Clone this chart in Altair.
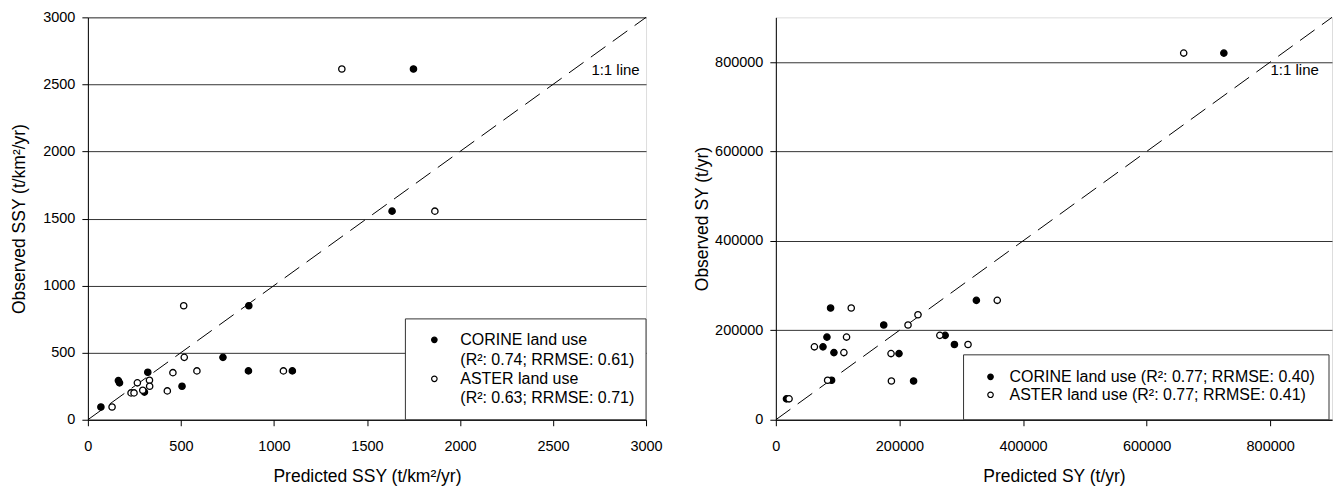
import altair as alt
import pandas as pd

FONT = "Liberation Sans"

# ---------------- Left panel: SSY (t/km2/yr) ----------------
SSY_CORINE_PRED = [70, 164, 170, 304, 322, 506, 726, 863, 1099, 865, 1635, 1750]
SSY_CORINE_OBS = [95, 292, 275, 206, 354, 250, 465, 364, 364, 850, 1555, 2615]
SSY_ASTER_PRED = [130, 266, 232, 248, 295, 331, 332, 427, 457, 518, 586, 1051, 515, 1865, 1365]
SSY_ASTER_OBS = [95, 275, 200, 200, 220, 294, 250, 215, 351, 465, 364, 364, 850, 1555, 2615]
SSY_TICKS = [0, 500, 1000, 1500, 2000, 2500, 3000]
SSY_DIAG = [0, 3000]
SSY_LABEL_POS = [2836, 2610]

# ---------------- Right panel: SY (t/yr) ----------------
SY_CORINE_PRED = [88600, 174600, 324500, 82700, 76300, 94000, 199300, 90200, 222900,
                  17200, 274000, 289000, 725000]
SY_CORINE_OBS = [249800, 212000, 267000, 184800, 163000, 150200, 147900, 88300, 86600,
                 46700, 188700, 168300, 820000]
SY_ASTER_PRED = [122000, 230000, 213900, 358300, 114400, 62400, 110100, 186400, 83800,
                 187000, 21400, 265400, 311000, 660000]
SY_ASTER_OBS = [249800, 234700, 212000, 267000, 184800, 163000, 150200, 147900, 88300,
                86600, 46700, 188700, 168300, 820000]
SY_TICKS = [0, 200000, 400000, 600000, 800000]
SY_DIAG = [0, 900000]
SY_LABEL_POS = [839600, 781400]

SERIES = ["CORINE", "ASTER"]
LEFT_LEGEND = [["CORINE land use", "(R²: 0.74; RRMSE: 0.61)"],
               ["ASTER land use", "(R²: 0.63; RRMSE: 0.71)"]]
RIGHT_LEGEND = ["CORINE land use (R²: 0.77; RRMSE: 0.40)",
                "ASTER land use (R²: 0.77; RRMSE: 0.41)"]

W1, W2, H = 559, 557, 403


def make_axis(ticks, title, grid, label_pad, title_pad):
    return alt.Axis(values=ticks, title=title, grid=grid, gridColor="#333333",
                    gridWidth=1, tickSize=6, tickColor="black", domainColor="black",
                    labelFontSize=14.5, titleFontSize=17.5, labelFont=FONT, titleFont=FONT,
                    labelColor="black", titleColor="black", titleFontWeight="normal",
                    format="d", labelFlush=False, labelPadding=label_pad,
                    titlePadding=title_pad, labelOverlap=False)


def panel(cp, co, ap, ao, ticks, dom, lab, xtitle, ytitle, legend_layers, w, ytp):
    df = pd.DataFrame({
        "pred": cp + ap,
        "obs": co + ao,
        "series": [SERIES[0]] * len(cp) + [SERIES[1]] * len(ap),
    })
    xs = alt.Scale(domain=dom, nice=False, zero=True)
    ys = alt.Scale(domain=dom, nice=False, zero=True)
    diag = pd.DataFrame({"pred": dom, "obs": dom})
    line = alt.Chart(diag).mark_line(color="black", strokeWidth=1, strokeDash=[18, 9]).encode(
        x=alt.X("pred:Q", scale=xs, axis=make_axis(ticks, xtitle, False, 13.5, 14.5)),
        y=alt.Y("obs:Q", scale=ys, axis=make_axis(ticks, ytitle, True, 7, ytp)),
    )
    pts = alt.Chart(df).mark_point(shape="circle", filled=True, size=40, strokeWidth=1.3,
                                   opacity=1).encode(
        x=alt.X("pred:Q", scale=xs),
        y=alt.Y("obs:Q", scale=ys),
        fill=alt.Fill("series:N", scale=alt.Scale(domain=SERIES, range=["black", "white"]),
                      legend=None),
        stroke=alt.value("black"),
    )
    lab_df = pd.DataFrame({"pred": [lab[0]], "obs": [lab[1]], "t": ["1:1 line"]})
    txt = alt.Chart(lab_df).mark_text(font=FONT, fontSize=15, color="black").encode(
        x=alt.X("pred:Q", scale=xs), y=alt.Y("obs:Q", scale=ys), text="t:N")
    return alt.layer(line, pts, txt, *legend_layers).properties(width=w, height=H)


def legend_box(x, x2, y, y2):
    return alt.Chart(pd.DataFrame({"a": [0]})).mark_rect(
        fill="white", stroke="#333333", strokeWidth=1).encode(
        x=alt.value(x), x2=alt.value(x2), y=alt.value(y), y2=alt.value(y2))


def legend_marker(x, y, filled):
    return alt.Chart(pd.DataFrame({"a": [0]})).mark_point(
        shape="circle", filled=True, size=30, strokeWidth=1.2, opacity=1,
        fill="black" if filled else "white", stroke="black").encode(
        x=alt.value(x), y=alt.value(y))


def legend_text(x, y, s):
    return alt.Chart(pd.DataFrame({"t": [s]})).mark_text(
        font=FONT, fontSize=16, color="black", align="left", baseline="middle").encode(
        x=alt.value(x), y=alt.value(y), text="t:N")


left_legend = [
    legend_box(318, W1, 302, H),
    legend_marker(347, 323, True),
    legend_marker(347, 362, False),
    legend_text(373, 323, LEFT_LEGEND[0][0]),
    legend_text(373, 343, LEFT_LEGEND[0][1]),
    legend_text(373, 362, LEFT_LEGEND[1][0]),
    legend_text(373, 381, LEFT_LEGEND[1][1]),
]
right_legend = [
    legend_box(188, W2 - 3, 338, H),
    legend_marker(215, 360, True),
    legend_marker(215, 378, False),
    legend_text(234, 360, RIGHT_LEGEND[0]),
    legend_text(234, 378, RIGHT_LEGEND[1]),
]

left = panel(SSY_CORINE_PRED, SSY_CORINE_OBS, SSY_ASTER_PRED, SSY_ASTER_OBS, SSY_TICKS,
             SSY_DIAG, SSY_LABEL_POS, "Predicted SSY (t/km²/yr)", "Observed SSY (t/km²/yr)",
             left_legend, W1, 14)
right = panel(SY_CORINE_PRED, SY_CORINE_OBS, SY_ASTER_PRED, SY_ASTER_OBS, SY_TICKS,
              SY_DIAG, SY_LABEL_POS, "Predicted SY (t/yr)", "Observed SY (t/yr)",
              right_legend, W2, 3)

chart = alt.hconcat(left, right, spacing=30).configure_view(
    stroke="black", strokeWidth=1).configure(background="white").properties(
    padding={"left": 2, "top": 0, "right": 0, "bottom": 0})

chart.save("out.html", embed_options={"renderer": "svg", "actions": False})
